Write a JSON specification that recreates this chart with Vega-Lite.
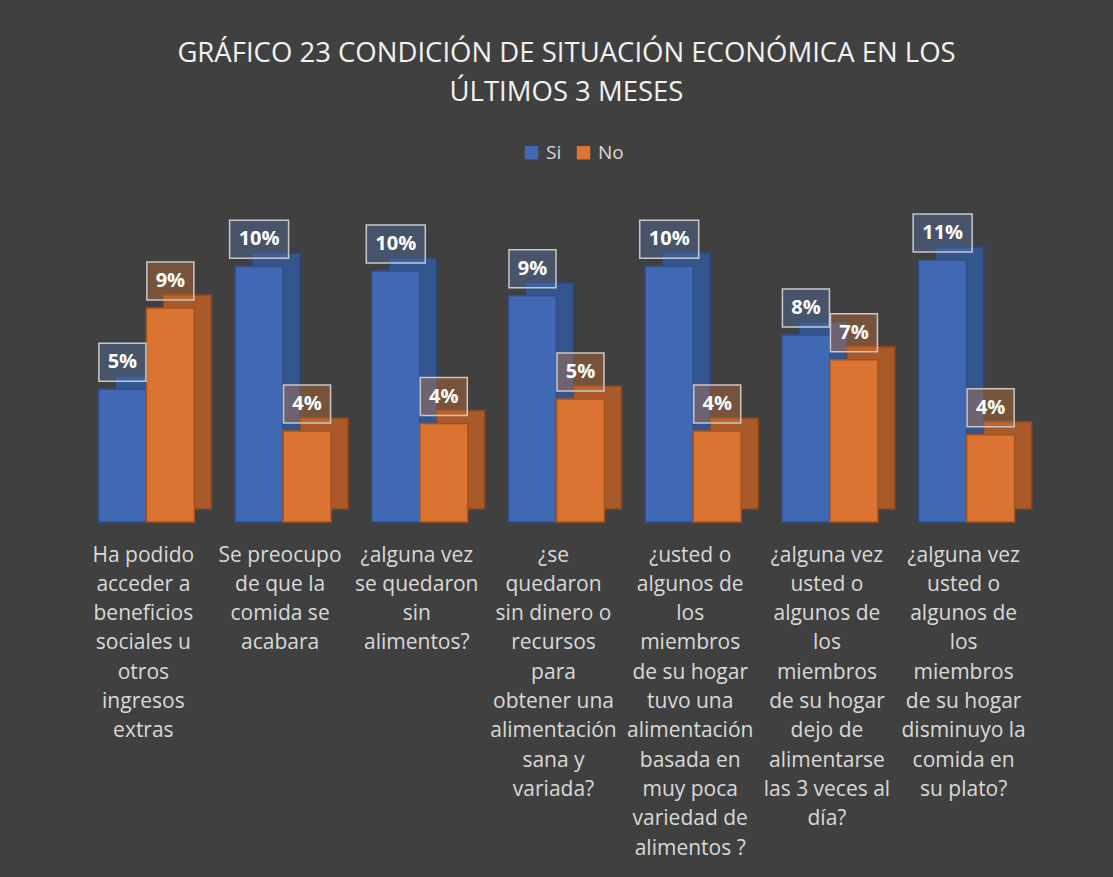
{
  "$schema": "https://vega.github.io/schema/vega-lite/v6.json",
  "autosize": {"type": "none"},
  "width": 957,
  "height": 309,
  "padding": {"left": 78, "top": 213, "right": 78, "bottom": 355},
  "background": "#404040",
  "config": {"view": {"stroke": null}, "font": "Open Sans"},
  "title": {
    "text": ["GRÁFICO 23 CONDICIÓN DE SITUACIÓN ECONÓMICA EN LOS", "ÚLTIMOS 3 MESES"],
    "font": "Open Sans",
    "fontSize": 27.5,
    "fontWeight": "normal",
    "color": "#f2f2f2",
    "lineHeight": 39,
    "anchor": "middle",
    "dx": 10,
    "offset": 37
  },
  "data": {
    "values": [
      {"pregunta": "Ha podido acceder a beneficios sociales u otros ingresos extras", "respuesta": "Si", "valor": 0.054},
      {"pregunta": "Ha podido acceder a beneficios sociales u otros ingresos extras", "respuesta": "No", "valor": 0.087},
      {"pregunta": "Se preocupo de que la comida se acabara", "respuesta": "Si", "valor": 0.104},
      {"pregunta": "Se preocupo de que la comida se acabara", "respuesta": "No", "valor": 0.037},
      {"pregunta": "¿alguna vez se quedaron sin alimentos?", "respuesta": "Si", "valor": 0.102},
      {"pregunta": "¿alguna vez se quedaron sin alimentos?", "respuesta": "No", "valor": 0.040},
      {"pregunta": "¿se quedaron sin dinero o recursos para obtener una alimentación sana y variada?", "respuesta": "Si", "valor": 0.092},
      {"pregunta": "¿se quedaron sin dinero o recursos para obtener una alimentación sana y variada?", "respuesta": "No", "valor": 0.050},
      {"pregunta": "¿usted o algunos de los miembros de su hogar tuvo una alimentación basada en muy poca variedad de alimentos ?", "respuesta": "Si", "valor": 0.104},
      {"pregunta": "¿usted o algunos de los miembros de su hogar tuvo una alimentación basada en muy poca variedad de alimentos ?", "respuesta": "No", "valor": 0.037},
      {"pregunta": "¿alguna vez usted o algunos de los miembros de su hogar dejo de alimentarse las 3 veces al día?", "respuesta": "Si", "valor": 0.076},
      {"pregunta": "¿alguna vez usted o algunos de los miembros de su hogar dejo de alimentarse las 3 veces al día?", "respuesta": "No", "valor": 0.066},
      {"pregunta": "¿alguna vez usted o algunos de los miembros de su hogar disminuyo la comida en su plato?", "respuesta": "Si", "valor": 0.1065},
      {"pregunta": "¿alguna vez usted o algunos de los miembros de su hogar disminuyo la comida en su plato?", "respuesta": "No", "valor": 0.0355}
    ]
  },
  "resolve": {"scale": {"x": "independent", "xOffset": "independent"}},
  "encoding": {
    "x": {
      "field": "pregunta",
      "type": "nominal",
      "sort": null,
      "scale": {"paddingInner": 0.298, "paddingOuter": 0.149},
      "axis": null
    },
    "xOffset": {"field": "respuesta", "type": "nominal", "sort": ["Si", "No"]},
    "y": {
      "field": "valor",
      "type": "quantitative",
      "scale": {"domain": [0, 0.1256], "nice": false, "zero": true},
      "axis": null
    }
  },
  "layer": [
    {
      "data": {"values": [{}]},
      "mark": {"type": "rule", "color": "#4e4e4e", "strokeWidth": 17, "yOffset": -8.5},
      "encoding": {"x": null, "xOffset": null, "y": {"datum": 0, "type": "quantitative"}}
    },
    {
      "mark": {"type": "bar", "yOffset": -13, "y2Offset": -13, "strokeWidth": 1.5},
      "encoding": {
        "x": {
          "field": "pregunta",
          "type": "nominal",
          "sort": null,
          "scale": {"paddingInner": 0.298, "paddingOuter": 0.149, "range": [17, 974]},
          "axis": null
        },
        "fill": {"condition": {"test": "datum.respuesta === 'Si'", "value": "#34568F"}, "value": "#A9592A"},
        "stroke": {"condition": {"test": "datum.respuesta === 'Si'", "value": "#2A4676"}, "value": "#8E4718"}
      }
    },
    {
      "mark": {"type": "bar", "strokeWidth": 1.5},
      "encoding": {
        "x": {
          "field": "pregunta",
          "type": "nominal",
          "sort": null,
          "scale": {"paddingInner": 0.298, "paddingOuter": 0.149},
          "axis": {
            "title": null,
            "domain": false,
            "ticks": false,
            "labelAngle": 0,
            "labelFont": "Open Sans",
            "labelFontSize": 21,
            "labelColor": "#d9d9d9",
            "labelLineHeight": 29.3,
            "labelBaseline": "top",
            "labelPadding": 22,
            "labelLimit": 0,
            "labelOffset": -3,
            "labelExpr": "indexof(datum.label,'Ha podido')>=0 ? ['Ha podido','acceder a','beneficios','sociales u','otros','ingresos','extras'] : indexof(datum.label,'Se preocupo')>=0 ? ['Se preocupo','de que la','comida se','acabara'] : indexof(datum.label,'se quedaron sin alimentos')>=0 ? ['¿alguna vez','se quedaron','sin','alimentos?'] : indexof(datum.label,'sin dinero')>=0 ? ['¿se','quedaron','sin dinero o','recursos','para','obtener una','alimentación','sana y','variada?'] : indexof(datum.label,'tuvo una')>=0 ? ['¿usted o','algunos de','los','miembros','de su hogar','tuvo una','alimentación','basada en','muy poca','variedad de','alimentos ?'] : indexof(datum.label,'dejo de')>=0 ? ['¿alguna vez','usted o','algunos de','los','miembros','de su hogar','dejo de','alimentarse','las 3 veces al','día?'] : ['¿alguna vez','usted o','algunos de','los','miembros','de su hogar','disminuyo la','comida en','su plato?']"
          }
        },
        "color": {
          "field": "respuesta",
          "type": "nominal",
          "sort": ["Si", "No"],
          "scale": {"domain": ["Si", "No"], "range": ["#4169B3", "#DB7433"]},
          "legend": {
            "title": null,
            "orient": "none",
            "legendX": 444,
            "legendY": -70,
            "direction": "horizontal",
            "symbolType": "square",
            "symbolSize": 180,
            "symbolStrokeWidth": 0,
            "labelFont": "Open Sans",
            "labelFontSize": 19,
            "labelColor": "#d9d9d9",
            "labelOffset": 5,
            "columnPadding": 12
          }
        },
        "stroke": {"condition": {"test": "datum.respuesta === 'Si'", "value": "#2F4F8A"}, "value": "#A4511C"}
      }
    },
    {
      "mark": {"type": "point", "filled": true, "size": 3481, "yOffset": -27, "fillOpacity": 0.32, "stroke": "#c8c8c8", "strokeWidth": 1.5, "strokeOpacity": 1},
      "encoding": {
        "shape": {"condition": {"test": "datum.valor >= 0.095", "value": "M-1,-0.644H1V0.644H-1Z"}, "value": "M-0.797,-0.644H0.797V0.644H-0.797Z"},
        "fill": {"condition": {"test": "datum.respuesta === 'Si'", "value": "#5b7fc4"}, "value": "#ED7D31"}
      }
    },
    {
      "mark": {"type": "text", "font": "Open Sans", "fontSize": 20, "fontWeight": "bold", "color": "#ffffff", "yOffset": -27, "baseline": "middle", "align": "center"},
      "encoding": {
        "text": {"field": "valor", "type": "quantitative", "format": ".0%"}
      }
    }
  ]
}
